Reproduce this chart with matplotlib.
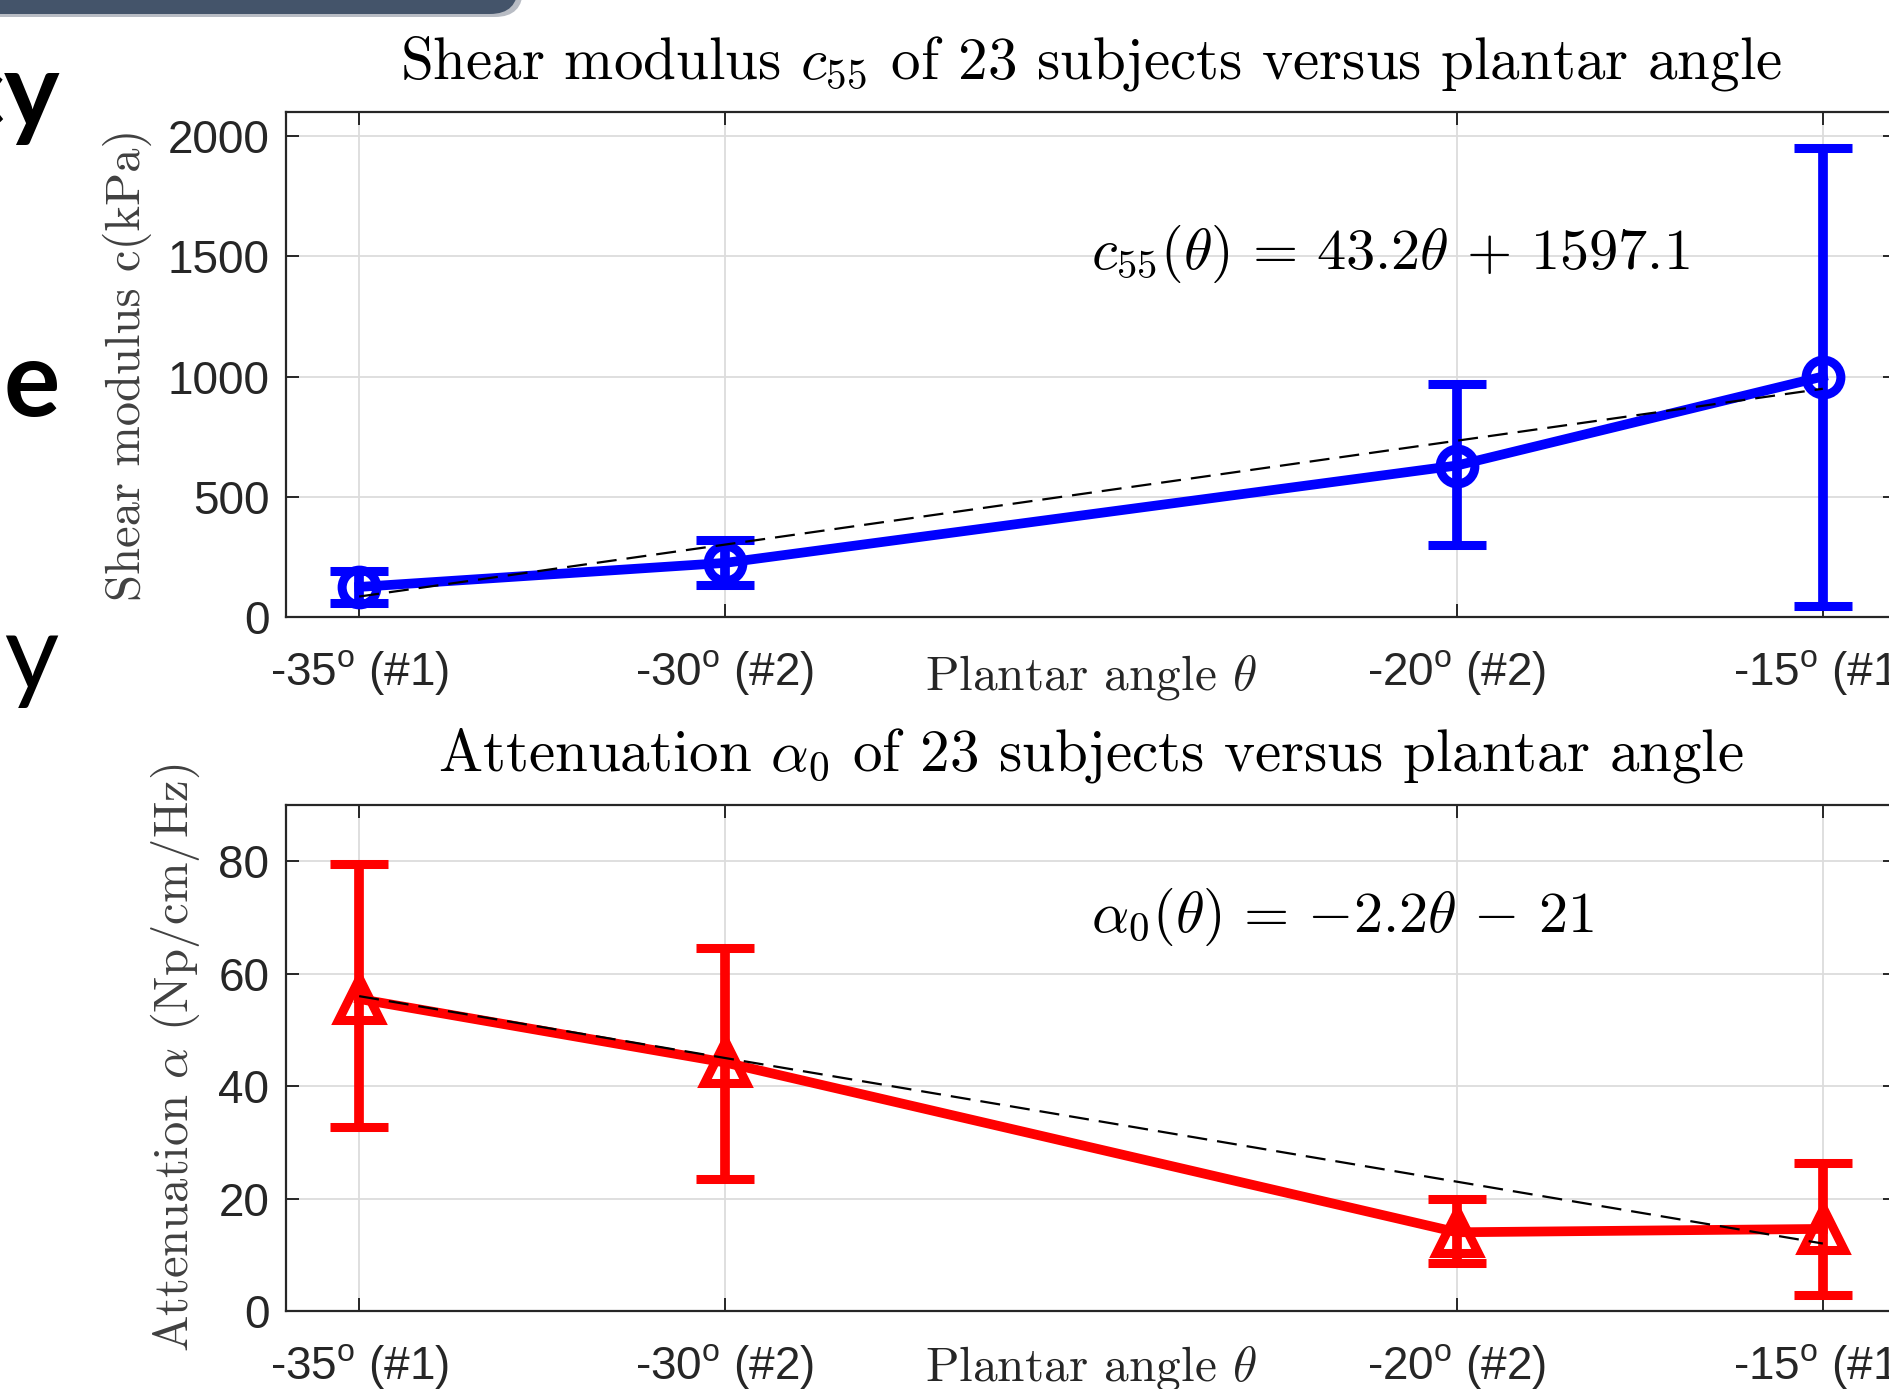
import matplotlib
matplotlib.use("Agg")
import matplotlib.pyplot as plt
import matplotlib.transforms as mtransforms
from matplotlib.patches import FancyBboxPatch
import numpy as np

plt.rcParams['mathtext.fontset'] = 'custom'
plt.rcParams['mathtext.rm'] = 'Liberation Sans'
plt.rcParams['mathtext.it'] = 'Liberation Sans:italic'
plt.rcParams['mathtext.bf'] = 'Liberation Sans:bold'
plt.rcParams['axes.formatter.use_mathtext'] = False

# ---------------- data ----------------
angles = [-35, -30, -20, -15]
tick_labels = ["-35$^{\\mathrm{o}}$ (#1)", "-30$^{\\mathrm{o}}$ (#2)",
               "-20$^{\\mathrm{o}}$ (#2)", "-15$^{\\mathrm{o}}$ (#1)"]

c55_mean = [125, 225, 630, 1000]
c55_low = [60, 135, 300, 45]
c55_high = [190, 322, 970, 1950]
c55_fit = [43.2, 1597.1]          # slope, intercept

alpha_mean = [55.5, 44.2, 14.0, 14.6]
alpha_low = [32.7, 23.5, 8.5, 2.8]
alpha_high = [79.5, 64.5, 19.9, 26.3]
alpha_fit = [-2.2, -21.0]

c55_yticks = [0, 500, 1000, 1500, 2000]
alpha_yticks = [0, 20, 40, 60, 80]

# ---------------- figure ----------------
W, H = 1890, 1389
fig = plt.figure(figsize=(W / 100, H / 100), dpi=100)
fig.patch.set_facecolor('white')

TXT = '#262626'
LBL = '#404040'

def style_axes(ax, yticks, ylim):
    ax.set_xlim(-36, -14)
    ax.set_ylim(*ylim)
    ax.set_xticks(angles)
    ax.set_xticklabels(tick_labels)
    ax.set_yticks(yticks)
    ax.tick_params(axis='both', direction='in', length=9.5, width=1.4,
                   colors=TXT, labelsize=33, top=True, right=True)
    ax.tick_params(axis='x', pad=22)
    ax.tick_params(axis='y', pad=12)
    for lab in ax.get_xticklabels() + ax.get_yticklabels():
        lab.set_fontfamily('Liberation Sans')
    for s in ax.spines.values():
        s.set_color(TXT)
        s.set_linewidth(1.6)
    ax.grid(True, color='#dcdcdc', linewidth=1.3)
    ax.set_axisbelow(True)

def draw(ax, mean, low, high, fit, color, marker, ms):
    m = np.array(mean, dtype=float)
    yerr = [m - np.array(low), np.array(high) - m]
    ax.errorbar(angles, m, yerr=yerr, fmt='-', marker=marker, color=color,
                lw=7, elinewidth=7, capsize=21, capthick=8,
                ms=ms, mfc='none', mec=color, mew=6.5, zorder=3)
    xs = np.array([angles[0], angles[-1]], dtype=float)
    ax.plot(xs, fit[0] * xs + fit[1], ls=(0, (9, 4.5)), color='black',
            lw=1.6, zorder=4)

xl_trans = lambda ax: mtransforms.blended_transform_factory(ax.transData, ax.transAxes)

# top axes
ax1 = fig.add_axes([286 / W, 772 / H, 1610 / W, 505 / H])
style_axes(ax1, c55_yticks, (0, 2100))
draw(ax1, c55_mean, c55_low, c55_high, c55_fit, '#0000ff', 'o', 25)
ax1.text(0.5, 1.097, r"Shear modulus $c_{55}$ of 23 subjects versus plantar angle",
         transform=ax1.transAxes, ha='center', va='center', fontsize=42.5,
         fontfamily='cmr10', math_fontfamily='cm', color='black')
ax1.text(-0.0988, 0.5, "Shear modulus c(kPa)", transform=ax1.transAxes,
         rotation=90, ha='center', va='center', fontsize=35,
         fontfamily='cmr10', color=LBL)
ax1.text(-25, -0.119, r"Plantar angle $\theta$", transform=xl_trans(ax1),
         ha='center', va='center', fontsize=35.5, fontfamily='cmr10',
         math_fontfamily='cm', color=TXT)
ax1.text(-25, 1510, r"$c_{55}(\theta)\,=\,43.2\theta\,+\,1597.1$", ha='left', va='center',
         fontsize=42, math_fontfamily='cm', color='black')

# bottom axes
ax2 = fig.add_axes([286 / W, 78 / H, 1610 / W, 506 / H])
style_axes(ax2, alpha_yticks, (0, 90))
draw(ax2, alpha_mean, alpha_low, alpha_high, alpha_fit, '#ff0000', '^', 30)
ax2.text(0.5, 1.097, r"Attenuation $\alpha_0$ of 23 subjects versus plantar angle",
         transform=ax2.transAxes, ha='center', va='center', fontsize=42.5,
         fontfamily='cmr10', math_fontfamily='cm', color='black')
ax2.text(-0.0689, 0.5, r"Attenuation $\alpha$ (Np/cm/Hz)", transform=ax2.transAxes,
         rotation=90, ha='center', va='center', fontsize=35,
         fontfamily='cmr10', math_fontfamily='cm', color=LBL)
ax2.text(-25, -0.113, r"Plantar angle $\theta$", transform=xl_trans(ax2),
         ha='center', va='center', fontsize=35.5, fontfamily='cmr10',
         math_fontfamily='cm', color=TXT)
ax2.text(-25, 70, r"$\alpha_0(\theta)\,=\,{-}2.2\theta\,-\,21$", ha='left', va='center',
         fontsize=42, math_fontfamily='cm', color='black')

# slide remnants (left edge text fragments and header bar)
fig.text(60 / W, 1 - 127 / H, "cy", ha='right', va='baseline', fontsize=76,
         fontweight='bold', fontfamily='Lato', color='black')
fig.text(60 / W, 1 - 416 / H, "e", ha='right', va='baseline', fontsize=76,
         fontweight='bold', fontfamily='Lato', color='black')
fig.text(60 / W, 1 - 690 / H, "ny", ha='right', va='baseline', fontsize=76,
         fontfamily='Lato', color='black')

shadow = FancyBboxPatch((-60, H - 17), 583, 80,
                        boxstyle="round,pad=0,rounding_size=28",
                        transform=mtransforms.IdentityTransform(),
                        facecolor='#b8bcc4', edgecolor='none', zorder=0)
bar = FancyBboxPatch((-60, H - 14), 578, 80,
                     boxstyle="round,pad=0,rounding_size=28",
                     transform=mtransforms.IdentityTransform(),
                     facecolor='#44546a', edgecolor='none', zorder=1)
fig.patches.extend([shadow, bar])

fig.savefig("out.png", dpi=100)
